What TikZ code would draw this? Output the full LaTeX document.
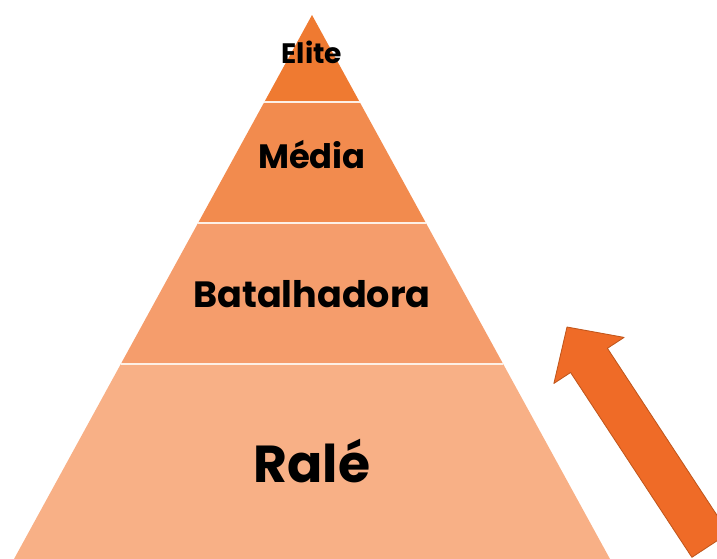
\documentclass[tikz,border=0pt]{standalone}
\usepackage{fontspec}
\setmainfont{Poppins}
\usepackage{tikz}
\usetikzlibrary{calc}
\definecolor{elitefill}{HTML}{EF7A31}
\definecolor{mediafill}{HTML}{F28B4E}
\definecolor{batalfill}{HTML}{F59D6C}
\definecolor{ralefill}{HTML}{F8B086}
\definecolor{arrowfill}{HTML}{EF6B27}
\definecolor{arrowdraw}{HTML}{C0561C}
\definecolor{divider}{HTML}{FDF0E6}
\tikzset{
    every picture/.style={line cap=round,line join=round},
    layerline/.style={draw=divider,line width=1.4pt,line cap=butt},
    layertext/.style={anchor=base,text=black,inner sep=0pt},
    risearrow/.style={fill=arrowfill,draw=arrowdraw,line width=0.6pt}
}
\begin{document}
\begin{tikzpicture}[x=0.025cm,y=-0.025cm]
  \useasboundingbox (0,0) rectangle (717,559);
  \clip (0,0) rectangle (717,559);
  \coordinate (apex) at (312,15);
  \coordinate (bl) at (14,559);
  \coordinate (br) at (610,559);
  % layer borders
  \coordinate (l1) at ($(apex)!0.160!(bl)$);
  \coordinate (r1) at ($(apex)!0.160!(br)$);
  \coordinate (l2) at ($(apex)!0.382!(bl)$);
  \coordinate (r2) at ($(apex)!0.382!(br)$);
  \coordinate (l3) at ($(apex)!0.6415!(bl)$);
  \coordinate (r3) at ($(apex)!0.6415!(br)$);
  \fill[elitefill] (apex) -- (r1) -- (l1) -- cycle;
  \fill[mediafill] (l1) -- (r1) -- (r2) -- (l2) -- cycle;
  \fill[batalfill] (l2) -- (r2) -- (r3) -- (l3) -- cycle;
  \fill[ralefill] (l3) -- (r3) -- (br) -- (bl) -- cycle;
  \draw[layerline] (l1) -- (r1);
  \draw[layerline] (l2) -- (r2);
  \draw[layerline] (l3) -- (r3);
  \node[layertext,font=\bfseries\fontsize{20}{20}\selectfont] (elite) at (312,63) {Elite};
  \node[layertext,font=\bfseries\fontsize{24}{24}\selectfont] (media) at (312,168) {Média};
  \node[layertext,font=\bfseries\fontsize{26}{26}\selectfont] (batal) at (312,307) {Batalhadora};
  \node[layertext,font=\bfseries\fontsize{37}{37}\selectfont] (rale) at (312,482) {Ralé};
  % rising arrow
  \draw[risearrow] (567,327) -- (624.1,337.4) -- (607.4,348.3) -- (728.7,533.1)
    -- (691.9,557.3) -- (570.6,372.5) -- (553.9,383.4) -- cycle;
\end{tikzpicture}
\end{document}
